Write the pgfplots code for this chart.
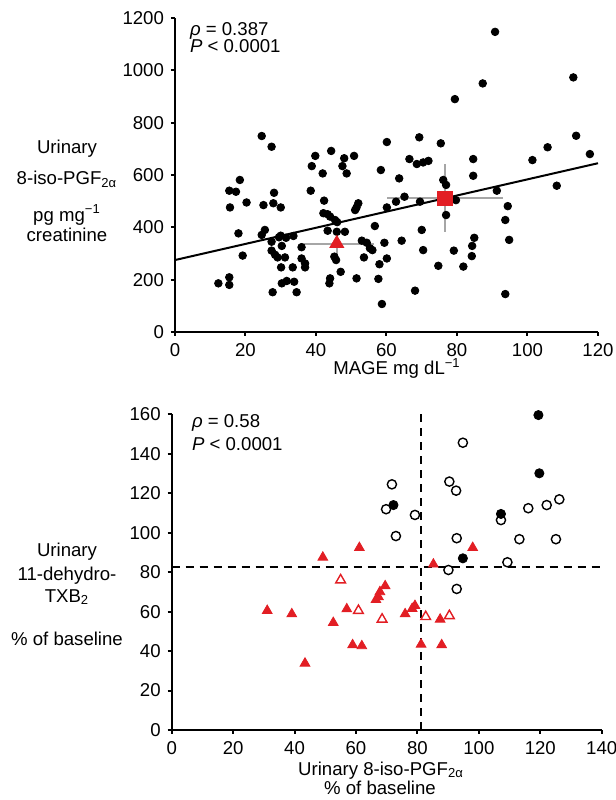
\documentclass[border=0pt]{standalone}
\usepackage{pgfplots}
\pgfplotsset{compat=1.18}
\usepackage{fontspec}
\setmainfont{Liberation Sans}
\definecolor{ptred}{RGB}{226,30,36}
\newcommand\lbl{\fontsize{9.3}{11}\selectfont}

\pgfplotsset{
  panel/.style={
    scale only axis, clip=false,
    axis x line*=bottom, axis y line*=left,
    axis line style={line width=1.1pt, black},
    tick style={line width=1pt, black},
    tick align=outside, major tick length=2pt,
    ticklabel style={font=\lbl},
    /pgf/number format/assume math mode=true,
    /pgf/number format/1000 sep={},
    scaled ticks=false,
    anchor=south west,
  }
}

\begin{document}
\begin{tikzpicture}[font=\lbl]
\useasboundingbox (0,0) rectangle (308pt,400pt);

% top panel: MAGE vs urinary 8-iso-PGF2a
\begin{axis}[panel, at={(87.5pt,234pt)}, width=211.5pt, height=157pt,
  xmin=0, xmax=120, ymin=0, ymax=1200,
  xtick={0,20,...,120}, ytick={0,200,...,1200}]

  \addplot[black, line width=1pt] coordinates {(0,275)(120,645)};

  \addplot[only marks, mark=*, mark size=1.9pt, black] coordinates {
    (90.8,1147)(113,973)(87.3,950)(79.4,890)(24.6,749)(27.4,708)
    (113.8,750)(105.7,706)(117.7,680)(101.4,657)(60.1,726)(69.3,744)
    (75.4,721)(84.6,661)(84.6,597)(44.3,692)(39.8,673)(48.0,664)
    (50.8,673)(38.8,634)(41.9,606)(47.5,634)(48.7,606)(58.4,619)
    (63.6,587)(66.5,661)(68.6,642)(70.4,648)(71.9,654)(18.4,581)
    (108.3,559)(15.4,540)(17.3,536)(15.6,476)(20.3,495)(25.1,485)
    (28.1,532)(27.9,492)(30.0,476)(38.5,540)(42.3,502)(42.1,454)
    (44.0,441)(45.4,428)(43.3,450)(46.0,420)(52.0,492)(51.5,476)
    (51.1,466)(60.1,476)(62.7,498)(65.1,517)(69.5,498)(76.1,581)
    (76.9,562)(79.7,504)(91.3,540)(94.4,481)(93.7,428)(94.8,352)
    (93.7,145)(76.9,447)(84.9,360)(84.3,329)(84.2,290)(79.1,311)
    (81.8,250)(74.7,253)(70.0,390)(70.4,313)(68.1,158)(64.3,349)
    (56.7,405)(59.4,341)(60.1,281)(58.0,259)(57.7,203)(58.7,107)
    (51.5,205)(53.0,349)(54.4,341)(55.3,320)(56.0,313)(53.6,285)
    (48.2,383)(45.9,383)(43.3,387)(45.2,288)(45.7,275)(47.0,230)
    (44.0,205)(43.8,186)(35.9,324)(35.9,281)(36.9,262)(36.9,247)
    (33.4,247)(30.1,247)(33.6,367)(30.0,368)(31.5,360)(29.5,362)
    (25.5,390)(24.6,371)(18.0,377)(27.4,345)(30.3,329)(27.4,311)
    (28.4,295)(29.1,285)(31.2,285)(19.2,292)(12.3,186)(15.4,209)
    (15.4,180)(27.7,152)(30.3,186)(31.7,195)(33.8,192)(34.5,152)
  };

  % group means with error bars
  \addplot[only marks, mark=square*, mark size=3.6pt, ptred,
    error bars/.cd, x dir=both, y dir=both, x explicit, y explicit,
    error mark=none, error bar style={gray!70, line width=1pt}]
    coordinates {(76.6,511) +- (16.5,130)};
  \addplot[only marks, mark=triangle*, mark size=4pt, ptred,
    error bars/.cd, x dir=both, y dir=both, x explicit, y explicit,
    error mark=none, error bar style={gray!70, line width=1pt}]
    coordinates {(45.9,338) +- (10.5,60)};
\end{axis}

\node[anchor=base west] at (91.5pt,382pt) {\itshape ρ\upshape\ = 0.387};
\node[anchor=base west] at (91.5pt,373.5pt) {\itshape P\upshape\ < 0.0001};
\node[anchor=base] at (33.5pt,323.4pt) {Urinary};
\node[anchor=base] at (33.5pt,307.5pt) {8-iso-PGF\textsubscript{2α}};
\node[anchor=base] at (33.5pt,289.2pt) {pg mg\textsuperscript{−1}};
\node[anchor=base] at (33.5pt,279.2pt) {creatinine};
\node[anchor=base] at (198.5pt,212.5pt) {MAGE mg dL\textsuperscript{−1}};

% bottom panel: % of baseline
\begin{axis}[panel, at={(85.85pt,35pt)}, width=215pt, height=157.85pt,
  xmin=0, xmax=140, ymin=0, ymax=160,
  xtick={0,20,...,140}, ytick={0,20,...,160}]

  \addplot[black, line width=1pt, dash pattern=on 4pt off 3pt] coordinates {(81.2,0)(81.2,160)};
  \addplot[black, line width=1pt, dash pattern=on 4pt off 3pt] coordinates {(0,82.5)(140,82.5)};

  \addplot[only marks, mark=o, mark size=2.3pt, black, line width=0.7pt] coordinates {
    (94.8,145.6)(71.7,124.5)(90.4,125.9)(92.6,121.3)(69.8,111.9)(79.2,109.0)
    (73.0,98.3)(107.2,106.4)(116.1,112.4)(122.1,114.0)(126.2,116.9)(92.8,97.2)
    (113.2,96.7)(125.1,96.7)(109.3,85.0)(90.1,81.1)(92.8,71.5)
  };
  \addplot[only marks, mark=*, mark size=2.3pt, black] coordinates {
    (119.4,159.6)(119.7,130.1)(72.2,114.0)(107.2,109.5)(94.8,87.0)
  };
  \addplot[only marks, mark=triangle*, mark size=2.8pt, ptred] coordinates {
    (49.2,87.5)(61.1,92.4)(98.0,92.4)(85.2,84.0)(69.5,73)(67.8,70)
    (67.3,67.5)(66.5,66)(31.1,60.5)(39.1,58.8)(57.0,61.3)(52.6,54.4)
    (76.0,58.8)(79.2,63.0)(78.3,61.5)(87.4,56.1)(58.9,43.1)(61.9,42.6)
    (81.2,43.4)(87.9,43.1)(43.4,33.8)
  };
  \addplot[only marks, mark=triangle, mark size=2.8pt, ptred, line width=0.7pt] coordinates {
    (55.0,76.0)(60.8,60.5)(68.5,56.1)(82.7,57.4)(90.4,57.9)
  };
\end{axis}

\node[anchor=base west] at (92.5pt,186pt) {\itshape ρ\upshape\ = 0.58};
\node[anchor=base west] at (92.5pt,175pt) {\itshape P\upshape\ < 0.0001};
\node[anchor=base] at (33.5pt,121.5pt) {Urinary};
\node[anchor=base] at (33.5pt,110pt) {11-dehydro-};
\node[anchor=base] at (33.5pt,99pt) {TXB\textsubscript{2}};
\node[anchor=base] at (33.5pt,77.5pt) {\% of baseline};
\node[anchor=base] at (190.5pt,12.5pt) {Urinary 8-iso-PGF\textsubscript{2α}};
\node[anchor=base] at (190pt,2.5pt) {\% of baseline};
\end{tikzpicture}
\end{document}
